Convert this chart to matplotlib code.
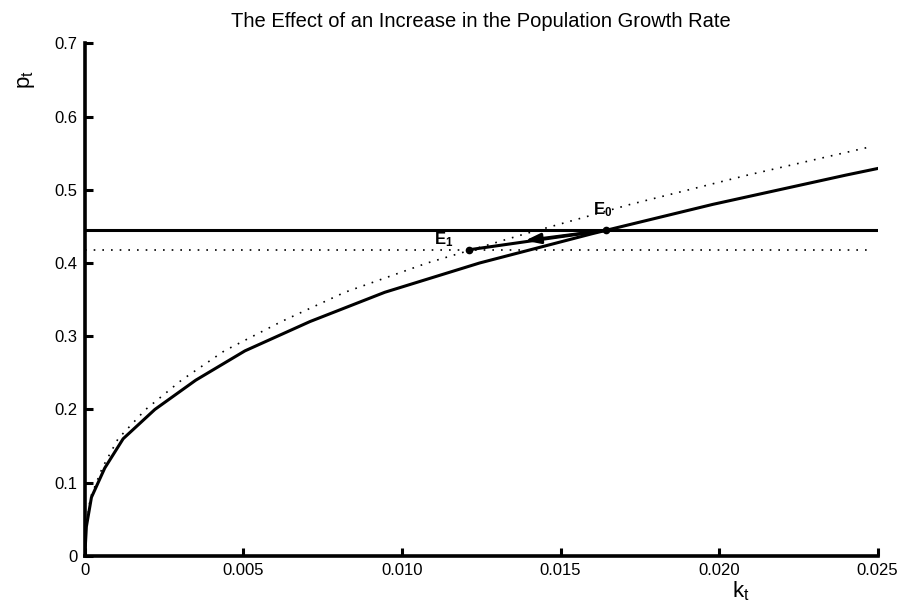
import matplotlib
matplotlib.use("Agg")
import matplotlib.pyplot as plt

plt.rcParams['font.family'] = ['Liberation Sans', 'DejaVu Sans']
plt.rcParams['mathtext.fontset'] = 'custom'
plt.rcParams['mathtext.rm'] = 'Liberation Sans'
plt.rcParams['mathtext.bf'] = 'Liberation Sans:bold'

# capital accumulation curve before the change (solid) and after it (dotted)
p_solid = [0, 0.04, 0.08, 0.12, 0.16, 0.20, 0.24, 0.28, 0.32, 0.36, 0.40, 0.44, 0.48, 0.52, 0.529]
k_solid = [0, 0.00005, 0.00021, 0.00063, 0.00121, 0.00221, 0.0035, 0.00505, 0.0071, 0.00946,
           0.01245, 0.0160, 0.0198, 0.0240, 0.0250]

p_dotted = [0, 0.04, 0.08, 0.12, 0.16, 0.20, 0.24, 0.28, 0.32, 0.36, 0.40, 0.44, 0.48, 0.52, 0.5575]
k_dotted = [0, 0.00004, 0.00018, 0.00055, 0.00105, 0.00192, 0.00305, 0.0044, 0.0062, 0.0082,
            0.0108, 0.0139, 0.0172, 0.0209, 0.02466]

# steady-state price levels
p_old = 0.4447
p_new = 0.418
k_end_old = 0.025
k_end_new = 0.0248

# equilibria
e0 = (0.01643, 0.4447)
e1 = (0.01211, 0.418)
arrow_tip = (0.01388, 0.4305)

xticks = [0, 0.005, 0.010, 0.015, 0.020, 0.025]
xticklabels = ['0', '0.005', '0.010', '0.015', '0.020', '0.025']
yticks = [0, 0.1, 0.2, 0.3, 0.4, 0.5, 0.6, 0.7]
yticklabels = ['0', '0.1', '0.2', '0.3', '0.4', '0.5', '0.6', '0.7']

fig = plt.figure(figsize=(9.02, 6.01), dpi=100)
ax = fig.add_axes([0.094, 0.075, 0.879, 0.853])

ax.plot(k_solid, p_solid, color='black', lw=2.2, solid_joinstyle='miter')
ax.plot(k_dotted, p_dotted, color='black', lw=1.2, linestyle=(0, (1, 4.2)))
ax.plot([0, k_end_old], [p_old, p_old], color='black', lw=2.2)
ax.plot([0, k_end_new], [p_new, p_new], color='black', lw=1.2, linestyle=(0, (1, 4.2)))

# move from E0 to E1
ax.plot([e0[0], e1[0]], [e0[1], e1[1]], color='black', lw=2.2)
ax.annotate('', xy=arrow_tip, xytext=e0,
            arrowprops=dict(arrowstyle='-|>,head_length=0.9,head_width=0.3',
                            color='black', lw=2.2, shrinkA=0, shrinkB=0))
ax.plot([e0[0], e1[0]], [e0[1], e1[1]], 'o', color='black', ms=4.5)

ax.text(e0[0] - 0.0004, e0[1] + 0.022, r'$\mathbf{E_0}$', fontsize=12)
ax.text(e1[0] - 0.0011, e1[1] + 0.008, r'$\mathbf{E_1}$', fontsize=12)

ax.set_xlim(0, 0.025)
ax.set_ylim(0, 0.7)
ax.set_xticks(xticks)
ax.set_xticklabels(xticklabels)
ax.set_yticks(yticks)
ax.set_yticklabels(yticklabels)
ax.tick_params(direction='in', length=6, width=2.2, labelsize=12, pad=5)

for side in ['top', 'right']:
    ax.spines[side].set_visible(False)
for side in ['left', 'bottom']:
    ax.spines[side].set_linewidth(2.6)

ax.set_title('The Effect of an Increase in the Population Growth Rate', fontsize=14.5, pad=12)
ax.set_xlabel(r'k$_\mathregular{t}$', fontsize=16)
ax.xaxis.set_label_coords(0.827, -0.045)
ax.set_ylabel(r'p$_\mathregular{t}$', fontsize=16)
ax.yaxis.set_label_coords(-0.06, 0.93)

fig.savefig('out.png', dpi=100)
